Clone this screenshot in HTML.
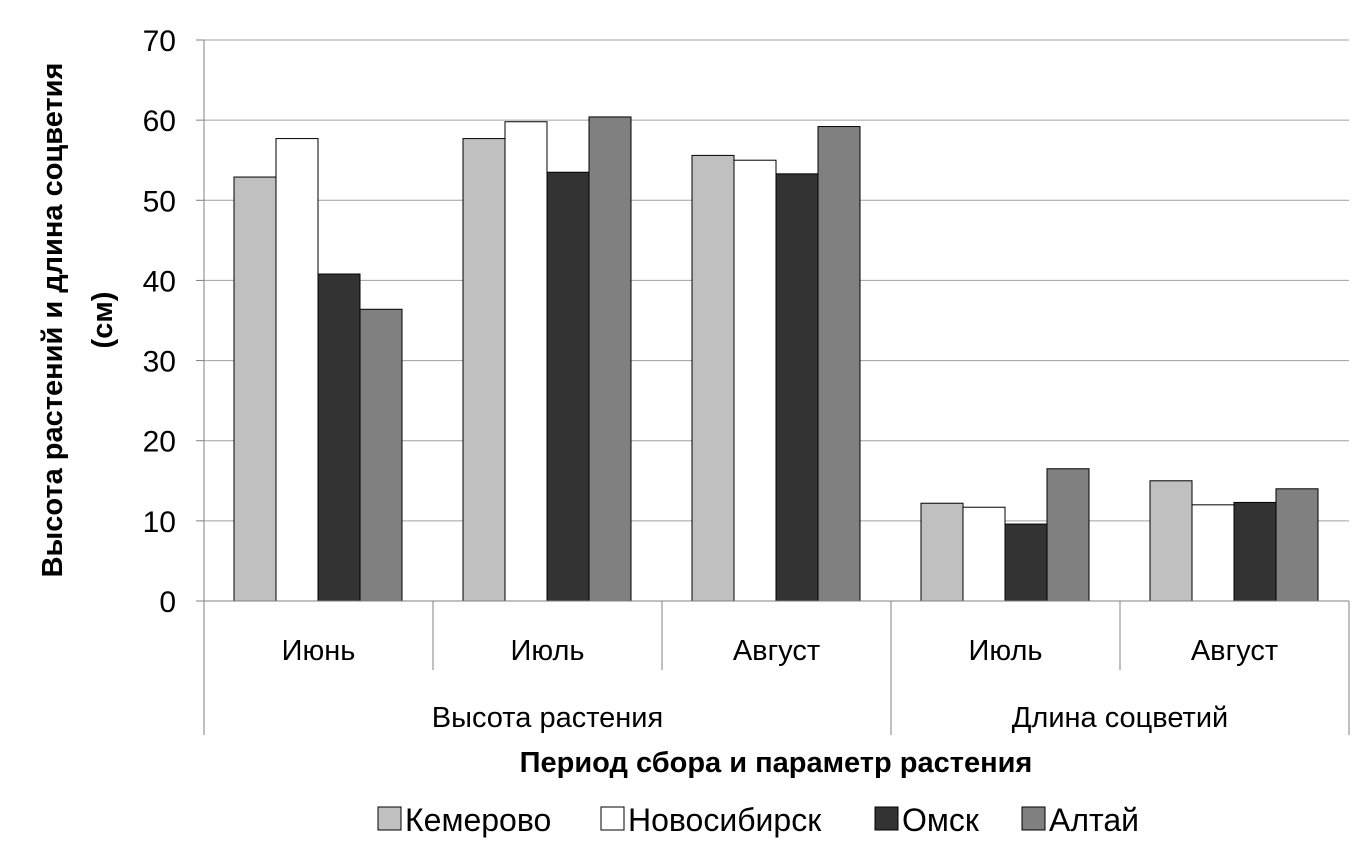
<!DOCTYPE html>
<html><head><meta charset="utf-8"><style>
html,body{margin:0;padding:0;background:#fff;}
svg{display:block;font-family:"Liberation Sans",Arial,sans-serif;}
</style></head><body>
<svg id="chart" width="1371" height="853" viewBox="0 0 1371 853" xmlns="http://www.w3.org/2000/svg">
<g id="grid"></g>
<g id="bars"></g>
<g id="axes"></g>
<text x="0" y="0" transform="translate(62,320) rotate(-90)" text-anchor="middle" font-size="29" font-weight="bold">Высота растений и длина соцветия</text>
<text x="0" y="0" transform="translate(112,320) rotate(-90)" text-anchor="middle" font-size="29" font-weight="bold">(см)</text>
<text x="776" y="772" text-anchor="middle" font-size="29" font-weight="bold">Период сбора и параметр растения</text>
<g id="legend"></g>
</svg>
<script>
const categories = ["Июнь","Июль","Август","Июль","Август"];
const groups = ["Высота растения","Длина соцветий"];
const groupSpans = [3,2];
const seriesNames = ["Кемерово","Новосибирск","Омск","Алтай"];
const kemerovo = [52.9,57.7,55.6,12.2,15.0];
const novosibirsk = [57.7,59.8,55.0,11.7,12.0];
const omsk = [40.8,53.5,53.3,9.6,12.3];
const altai = [36.4,60.4,59.2,16.5,14.0];
const yTicks = [0,10,20,30,40,50,60,70];
const series = [kemerovo,novosibirsk,omsk,altai];
const colors = ["#c0c0c0","#ffffff","#333333","#808080"];
const NS="http://www.w3.org/2000/svg";
const X0=204,X1=1349,Y0=601,YT=40,YMAX=70;
const y=v=>Y0-(v/YMAX)*(Y0-YT);
const bandW=(X1-X0)/categories.length;
const xBand=i=>X0+i*bandW;
function mk(tag,attrs,parent){const e=document.createElementNS(NS,tag);for(const k in attrs)e.setAttribute(k,attrs[k]);parent.appendChild(e);return e;}
const grid=document.getElementById('grid'),bars=document.getElementById('bars'),axes=document.getElementById('axes'),legend=document.getElementById('legend');
yTicks.forEach(t=>{
  if(t>0){const l=mk('line',{x1:X0,x2:X1,y1:y(t),y2:y(t),stroke:'#a0a0a0','stroke-width':1},grid);
  
  }
  const tk=mk('line',{x1:X0-8,x2:X0,y1:y(t),y2:y(t),stroke:'#808080','stroke-width':1},axes);
  
  
  const tx=mk('text',{x:176,y:y(t)+11,'text-anchor':'end','font-size':30},axes);
  tx.textContent=t;
  
  
});
const barW=42,off=30;
series.forEach((s,si)=>{
  s.forEach((v,i)=>{
    const r=mk('rect',{x:xBand(i)+off+si*barW,y:y(v),width:barW,height:Y0-y(v),fill:colors[si],stroke:'#000','stroke-width':1},bars);
    
    
  });
});
const ya=mk('line',{x1:X0,x2:X0,y1:YT,y2:735,stroke:'#808080','stroke-width':1},axes);


const xa=mk('line',{x1:X0,x2:X1,y1:Y0,y2:Y0,stroke:'#808080','stroke-width':1},axes);


let boundaries=[];let acc=0;groupSpans.forEach(g=>{acc+=g;boundaries.push(acc);});
for(let i=1;i<=categories.length;i++){
  const isG=boundaries.includes(i);
  const l=mk('line',{x1:xBand(i),x2:xBand(i),y1:Y0,y2:isG?735:670,stroke:'#808080','stroke-width':1},axes);
  
  
}
categories.forEach((c,i)=>{
  const t=mk('text',{x:xBand(i)+bandW/2,y:660,'text-anchor':'middle','font-size':29},axes);
  t.textContent=c;
  
  
});
let start=0;
groups.forEach((g,gi)=>{
  const mid=(xBand(start)+xBand(start+groupSpans[gi]))/2;
  const t=mk('text',{x:mid,y:727,'text-anchor':'middle','font-size':29},axes);
  t.textContent=g;
  
  
  start+=groupSpans[gi];
});
const legX=[378,601,875,1022];
seriesNames.forEach((n,i)=>{
  const r=mk('rect',{x:legX[i],y:807,width:23,height:23,fill:colors[i],stroke:'#000','stroke-width':1},legend);
  
  
  const t=mk('text',{x:legX[i]+27,y:831,'font-size':32},legend);
  t.textContent=n;
  
  
});
</script>
</body></html>
